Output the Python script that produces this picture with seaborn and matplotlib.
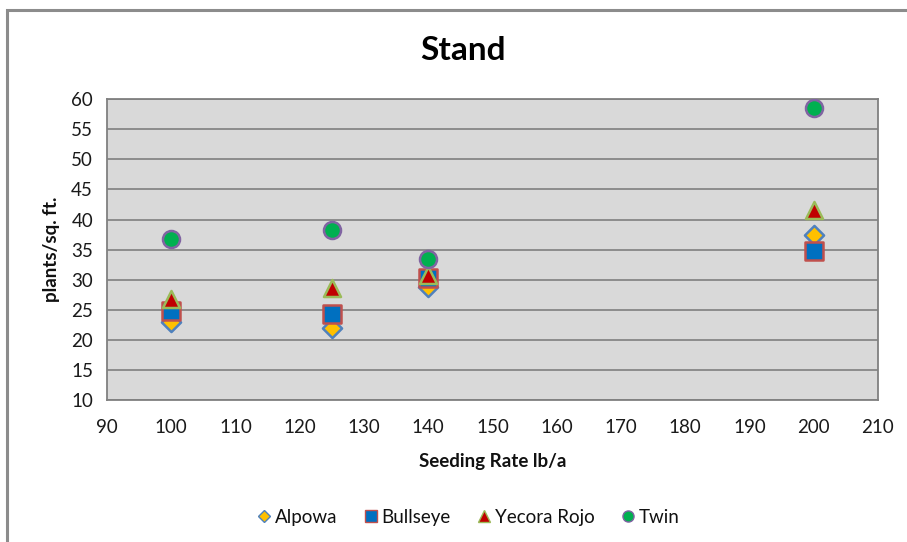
import numpy as np
import pandas as pd
import matplotlib.pyplot as plt
import seaborn as sns
from matplotlib.lines import Line2D
from matplotlib.patches import Rectangle

# data
seeding_rate = [100, 125, 140, 200]
alpowa = [23.0, 22.0, 28.8, 37.4]
bullseye = [24.8, 24.3, 30.3, 34.7]
yecora_rojo = [26.8, 28.6, 30.7, 41.6]
twin = [36.7, 38.2, 33.4, 58.5]

varieties = ['Alpowa', 'Bullseye', 'Yecora Rojo', 'Twin']
x_ticks = list(range(90, 211, 10))
y_ticks = list(range(10, 61, 5))

df = pd.DataFrame({
    'rate': seeding_rate * 4,
    'stand': alpowa + bullseye + yecora_rojo + twin,
    'variety': np.repeat(varieties, len(seeding_rate)),
})

styles = {
    'Alpowa': dict(marker='D', face='#FFC000', edge='#4F81BD', s=95),
    'Bullseye': dict(marker='s', face='#0070C0', edge='#C0504D', s=150),
    'Yecora Rojo': dict(marker='^', face='#C00000', edge='#9BBB59', s=150),
    'Twin': dict(marker='o', face='#00B050', edge='#8064A2', s=150),
}

sns.set_style('white')
plt.rcParams['font.family'] = ['Lato', 'DejaVu Sans']
plt.rcParams['text.color'] = '#111111'
plt.rcParams['axes.labelcolor'] = '#111111'

fig = plt.figure(figsize=(9.07, 5.42), dpi=100)
ax = fig.add_axes([0.118, 0.262, 0.850, 0.555])
ax.set_facecolor('#D9D9D9')

for v in varieties:
    st = styles[v]
    sns.scatterplot(data=df[df['variety'] == v], x='rate', y='stand', ax=ax,
                    marker=st['marker'], color=st['face'], edgecolor=st['edge'],
                    linewidth=1.8, s=st['s'], zorder=3, legend=False)

ax.set_xlim(90, 210)
ax.set_ylim(10, 60)
ax.set_xticks(x_ticks)
ax.set_yticks(y_ticks)
ax.yaxis.grid(True, color='#8C8C8C', linewidth=1.4)
ax.set_axisbelow(True)
for side in ax.spines.values():
    side.set_color('#808080')
    side.set_linewidth(1.3)
ax.tick_params(axis='both', length=7, width=1, color='#999999',
               labelsize=13.5, labelcolor='#1a1a1a', pad=3)
ax.tick_params(axis='x', pad=7)

ax.set_xlabel('Seeding Rate lb/a', fontsize=13.5, fontweight='bold', labelpad=12)
ax.set_ylabel('plants/sq. ft.', fontsize=13.5, fontweight='bold', labelpad=8)
fig.text(0.51, 0.907, 'Stand', ha='center', va='center', fontsize=24,
         fontweight='bold', color='black')

handles = [Line2D([], [], linestyle='none', marker=styles[v]['marker'],
                  markerfacecolor=styles[v]['face'], markeredgecolor=styles[v]['edge'],
                  markersize=8 if v != 'Alpowa' else 6.5, markeredgewidth=1.0)
           for v in varieties]
fig.legend(handles, varieties, loc='center', bbox_to_anchor=(0.515, 0.046), ncol=4,
           frameon=False, fontsize=13.5, handletextpad=0.05, columnspacing=1.3,
           handlelength=1.0)

# chart border (left and top edges visible in the reference)
fig.patches.append(Rectangle((7 / 907, -0.05), 1.2, 0.05 + 532 / 542, transform=fig.transFigure,
                             fill=False, edgecolor='#8C8C8C', linewidth=2.2))

fig.savefig('out.png', dpi=100)
